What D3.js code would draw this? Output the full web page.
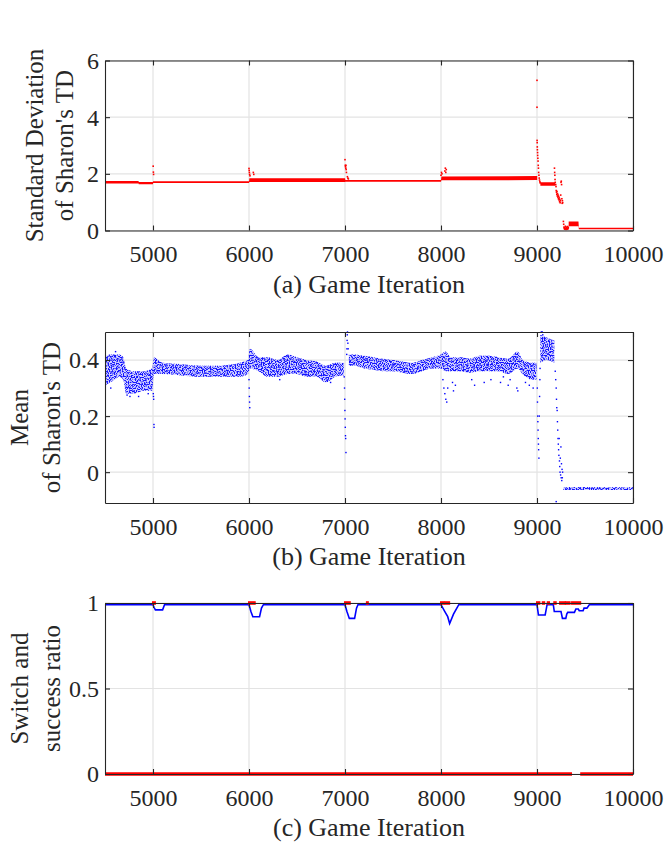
<!DOCTYPE html>
<html lang="en">
<head>
    <meta charset="utf-8">
    <title>Sharon's TD statistics</title>
    <script type="text/javascript" src="https://d3js.org/d3.v7.min.js"></script>
    <style type="text/css">
        body { margin: 0; background: #fff; }
        svg { font-family: "Liberation Serif", "Times New Roman", serif; }
    </style>
</head>
<body>
<script type="text/javascript">

    // ---- data ----
    var iterTicks = [5000, 6000, 7000, 8000, 9000, 10000];
    var stdTicks = [0, 2, 4, 6];
    var meanTicks = [0, 0.2, 0.4];
    var ratioTicks = [0, 0.5, 1];

    // (a) std dev: dense band (lo/hi) + scattered spikes
    var stdIter = [4500, 4850, 4851, 4998, 5002, 6000, 6004, 7000, 7004, 7040, 8000, 8004, 9002, 9003, 9035, 9190, 9191, 9330, 9432, 9436, 10000];
    var stdLo   = [1.66, 1.66, 1.63, 1.63, 1.68, 1.68, 1.71, 1.71, 1.72, 1.72, 1.72, 1.77, 1.78, null, 1.58, 1.58, null, 0.15, 0.15, 0.04, 0.04];
    var stdHi   = [1.75, 1.75, 1.71, 1.71, 1.74, 1.74, 1.84, 1.84, 1.78, 1.78, 1.78, 1.91, 1.92, null, 1.70, 1.70, null, 0.32, 0.32, 0.10, 0.10];
    var stdSpikeIter = [5002, 5004, 5006,
        6000, 6002, 6004, 6006, 6010, 6045, 6050,
        7000, 7003, 7005, 7008, 7010, 7012, 7015, 7025, 7030, 7035,
        8000, 8005, 8010, 8040, 8045, 8050, 8055,
        9000, 9000, 9001, 9002, 9003, 9004, 9006, 9007, 9009, 9011, 9013, 9015, 9017, 9020, 9023, 9026, 9030, 9033,
        9182, 9184, 9186, 9188, 9190,
        9195, 9198, 9200, 9203, 9206, 9208, 9211, 9214, 9217, 9220, 9223, 9226, 9229, 9232, 9235, 9238, 9241, 9244, 9247, 9250, 9253, 9256, 9259, 9262, 9265, 9268,
        9275, 9278, 9281, 9284, 9287, 9290, 9293, 9296, 9299, 9302, 9305, 9308, 9311, 9314, 9317, 9320, 9323, 9326];
    var stdSpikeVal = [2.27, 2.06, 1.98,
        2.19, 2.12, 2.05, 1.98, 1.93, 2.05, 1.98,
        2.5, 2.3, 2.25, 2.2, 2.3, 2.15, 2.05, 1.9, 1.85, 1.82,
        1.95, 2.05, 2.0, 2.1, 2.2, 2.05, 2.15,
        5.3, 4.35, 3.18, 3.1, 2.95, 2.85, 2.75, 2.65, 2.55, 2.45, 2.3, 2.2, 2.05, 1.95, 1.85, 1.78, 1.72, 1.68,
        2.2, 2.05, 1.95, 1.8, 1.7,
        1.62, 1.55, 1.41, 1.35, 1.28, 1.38, 1.22, 1.3, 1.18, 1.25, 1.12, 1.2, 1.08, 1.15, 1.02, 1.1, 0.98, 1.05, 1.25, 1.7, 1.74, 1.62, 1.12, 0.96, 1.05, 0.98,
        0.32, 0.22, 0.12, 0.08, 0.05, 0.1, 0.06, 0.15, 0.07, 0.04, 0.1, 0.06, 0.12, 0.05, 0.08, 0.14, 0.06, 0.1];

    // (b) mean: cloud envelope (lo/hi) + stray points
    var meanIter = [4500, 4550, 4600, 4650, 4690, 4720, 4800, 4900, 4990, 5010, 5100, 5300, 5500, 5700, 5900, 5990, 6010, 6100, 6200, 6300, 6400, 6500, 6600, 6700, 6800, 6900, 6990, 7010, 7040, 7100, 7200, 7300, 7400, 7500, 7600, 7700, 7800, 7900, 8000, 8050, 8100, 8200, 8300, 8400, 8500, 8600, 8700, 8800, 8850, 8950, 8995, 9010, 9035, 9100, 9180, 9200, 9275, 10000];
    var meanLo = [0.31, 0.32, 0.33, 0.34, 0.33, 0.28, 0.28, 0.29, 0.29, 0.35, 0.35, 0.345, 0.34, 0.34, 0.34, 0.35, 0.37, 0.36, 0.34, 0.34, 0.35, 0.35, 0.34, 0.34, 0.32, 0.34, 0.345, null, 0.38, 0.38, 0.37, 0.365, 0.36, 0.36, 0.355, 0.35, 0.36, 0.37, 0.37, 0.36, 0.36, 0.36, 0.355, 0.36, 0.36, 0.36, 0.35, 0.37, 0.35, 0.33, 0.33, null, 0.39, 0.40, 0.39, null, -0.064, -0.064];
    var meanHi = [0.41, 0.42, 0.42, 0.42, 0.41, 0.37, 0.36, 0.36, 0.37, 0.41, 0.39, 0.385, 0.38, 0.38, 0.39, 0.40, 0.44, 0.41, 0.41, 0.40, 0.42, 0.41, 0.40, 0.395, 0.38, 0.39, 0.39, null, 0.42, 0.42, 0.415, 0.41, 0.405, 0.40, 0.395, 0.39, 0.40, 0.41, 0.42, 0.43, 0.41, 0.41, 0.405, 0.415, 0.415, 0.41, 0.405, 0.43, 0.40, 0.39, 0.39, null, 0.49, 0.48, 0.47, null, -0.053, -0.054];
    var meanOutIter = [4560, 4610, 4730, 4760, 4850, 4950,
        5003, 5005, 5007, 5010, 5011,
        6000, 6002, 6004, 6006, 6008, 6320, 6850,
        6992, 6995, 6997, 6999, 7001, 7003, 7005, 7007, 7010, 7018, 7020, 7022, 7024, 7026, 7030, 7033,
        8020, 8030, 8040, 8050, 8060, 8070, 8120, 8130, 8150, 8320, 8350, 8450, 8520, 8620, 8650, 8700, 8720, 8790, 8800, 8880, 8920, 8960,
        9003, 9005, 9007, 9009, 9011, 9013, 9015, 9017, 9020, 9024, 9027, 9030, 9032, 9045, 9055, 9060,
        9190, 9195, 9200, 9203, 9206, 9210, 9213, 9216, 9219, 9222, 9225, 9228, 9231, 9234, 9237, 9240, 9243, 9246, 9249, 9252, 9255, 9258, 9261, 9264, 9267, 9200];
    var meanOutVal = [0.30, 0.43, 0.275, 0.27, 0.27, 0.28,
        0.28, 0.27, 0.26, 0.17, 0.16,
        0.33, 0.30, 0.27, 0.25, 0.23, 0.33, 0.32,
        0.34, 0.30, 0.26, 0.22, 0.19, 0.16, 0.13, 0.12, 0.07, 0.42, 0.44, 0.47, 0.49, 0.50, 0.46, 0.44,
        0.33, 0.30, 0.28, 0.26, 0.25, 0.30, 0.32, 0.29, 0.31, 0.33, 0.31, 0.32, 0.33, 0.32, 0.34, 0.31, 0.33, 0.30, 0.29, 0.32, 0.31, 0.30,
        0.30, 0.25, 0.20, 0.18, 0.15, 0.12, 0.10, 0.08, 0.05, 0.20, 0.27, 0.33, 0.37, 0.50, 0.50, 0.49,
        0.36, 0.33, 0.30, 0.26, 0.23, 0.22, 0.18, 0.15, 0.12, 0.10, 0.08, 0.06, 0.12, 0.04, 0.02, 0.00, 0.05, -0.01, 0.09, -0.02, 0.03, -0.03, 0.01, -0.02, 0.00, -0.105];

    // (c) success ratio (blue line) and switch flag (red)
    var ratioIter = [4500, 5000, 5010, 5025, 5100, 5120, 6000, 6020, 6040, 6110, 6130, 6150, 7000, 7020, 7045, 7100, 7120, 7135, 8000, 8040, 8070, 8090, 8130, 8165, 8185, 9000, 9015, 9085, 9105, 9170, 9180, 9250, 9265, 9300, 9310, 9320, 9390, 9405, 9430, 9440, 9480, 9490, 9520, 9545, 10000];
    var ratioVal = [0.99, 0.99, 0.975, 0.96, 0.96, 0.99, 0.99, 0.95, 0.92, 0.92, 0.97, 0.99, 0.99, 0.95, 0.91, 0.91, 0.97, 0.99, 0.99, 0.95, 0.92, 0.88, 0.935, 0.97, 0.99, 0.99, 0.93, 0.93, 0.99, 0.99, 0.95, 0.95, 0.91, 0.91, 0.935, 0.945, 0.945, 0.965, 0.965, 0.955, 0.955, 0.97, 0.97, 0.99, 0.99];
    var switchOnStart = [5000, 6000, 7000, 7228, 8000, 8045, 9000, 9060, 9112, 9180, 9240, 9300, 9365];
    var switchOnEnd   = [5020, 6060, 7050, 7238, 8030, 8085, 9025, 9075, 9125, 9195, 9290, 9340, 9450];
    var switchOffStart = [4500, 9450];
    var switchOffEnd   = [9365, 10000];

    // ---- layout ----
    var W = 665, H = 844;
    var left = 105, right = 633;
    var axisColor = "#262626", gridColor = "#e3e3e3";
    var serif = "Liberation Serif";

    var svg = d3.select("body").append("svg")
        .attr("width", W).attr("height", H);

    // speckle texture so the dense point cloud looks dotted rather than solid
    var defs = svg.append("defs");
    var speckle = defs.append("filter").attr("id", "speckle")
        .attr("x", 0).attr("y", 0).attr("width", 1).attr("height", 1);
    speckle.append("feTurbulence").attr("type", "fractalNoise")
        .attr("baseFrequency", 0.85).attr("numOctaves", 1).attr("seed", 3).attr("result", "noise");
    speckle.append("feColorMatrix").attr("in", "noise").attr("type", "matrix")
        .attr("values", "0 0 0 0 0  0 0 0 0 0  0 0 0 0 0  0 0 0 7 -3.1").attr("result", "mask");
    speckle.append("feComposite").attr("in", "SourceGraphic").attr("in2", "mask").attr("operator", "in");

    var x = d3.scaleLinear().domain([4500, 10000]).range([left, right]);

    function styleAxis(a) {
        a.attr("font-family", serif).attr("font-size", 24);
        a.select(".domain").attr("stroke", axisColor).attr("stroke-width", 1.1);
        a.selectAll(".tick line").attr("stroke", axisColor).attr("stroke-width", 1.1);
        a.selectAll(".tick text").attr("fill", axisColor);
    }

    function panel(top, bottom, yDomain, yTicks, yFmt, title, yLines, yLabelX) {
        var y = d3.scaleLinear().domain(yDomain).range([bottom, top]);
        var g = svg.append("g");
        // grid
        g.selectAll(".gx").data(iterTicks).enter().append("line")
            .attr("x1", function(d) { return x(d); }).attr("x2", function(d) { return x(d); })
            .attr("y1", top).attr("y2", bottom)
            .attr("stroke", gridColor).attr("stroke-width", 1.2);
        g.selectAll(".gy").data(yTicks).enter().append("line")
            .attr("y1", function(d) { return y(d); }).attr("y2", function(d) { return y(d); })
            .attr("x1", left).attr("x2", right)
            .attr("stroke", gridColor).attr("stroke-width", 1.2);
        var data = g.append("g");
        var frame = svg.append("g");

        // axes on all four sides, ticks pointing inward
        var xb = frame.append("g").attr("transform", "translate(0," + bottom + ")")
            .call(d3.axisBottom(x).tickValues(iterTicks).tickSizeInner(-5).tickSizeOuter(0).tickFormat(d3.format("d")));
        var xt = frame.append("g").attr("transform", "translate(0," + top + ")")
            .call(d3.axisTop(x).tickValues(iterTicks).tickSizeInner(-5).tickSizeOuter(0).tickFormat(""));
        var yl = frame.append("g").attr("transform", "translate(" + left + ",0)")
            .call(d3.axisLeft(y).tickValues(yTicks).tickSizeInner(-5).tickSizeOuter(0).tickFormat(yFmt));
        var yr = frame.append("g").attr("transform", "translate(" + right + ",0)")
            .call(d3.axisRight(y).tickValues(yTicks).tickSizeInner(-5).tickSizeOuter(0).tickFormat(""));
        [xb, xt, yl, yr].forEach(styleAxis);
        xb.selectAll(".tick text").attr("y", 31.5).attr("dy", null);
        yl.selectAll(".tick text").attr("x", -6).attr("dy", "0.33em");

        frame.append("text")
            .attr("x", (left + right) / 2).attr("y", bottom + 62)
            .attr("text-anchor", "middle").attr("fill", axisColor)
            .attr("font-family", serif).attr("font-size", 26).text(title);
        var cy = (top + bottom) / 2;
        yLines.forEach(function(t, i) {
            frame.append("text")
                .attr("transform", "translate(" + yLabelX[i] + "," + cy + ") rotate(-90)")
                .attr("text-anchor", "middle").attr("fill", axisColor)
                .attr("font-family", serif).attr("font-size", 25).text(t);
        });
        return { y: y, g: data };
    }

    // ---- (a) ----
    var pa = panel(60.5, 230.5, [0, 6], stdTicks, d3.format("d"), "(a) Game Iteration",
        ["Standard Deviation", "of Sharon's TD"], [43, 73]);
    var stdRows = stdIter.map(function(d, i) { return { it: d, lo: stdLo[i], hi: stdHi[i] }; });
    pa.g.append("path").datum(stdRows)
        .attr("fill", "#ff0000")
        .attr("d", d3.area().defined(function(d) { return d.lo !== null; })
            .x(function(d) { return x(d.it); })
            .y0(function(d) { return pa.y(d.lo); })
            .y1(function(d) { return pa.y(d.hi); }));
    pa.g.selectAll(".sp").data(stdSpikeIter).enter().append("rect")
        .attr("x", function(d) { return x(d) - 0.8; })
        .attr("y", function(d, i) { return pa.y(stdSpikeVal[i]) - 0.8; })
        .attr("width", 1.6).attr("height", 1.6)
        .attr("fill", "#ff0000");

    // ---- (b) ----
    var pb = panel(332, 503, [-0.11, 0.5], meanTicks, function(d) { return d === 0 ? "0" : d3.format(".1f")(d); },
        "(b) Game Iteration", ["Mean", "of Sharon's TD"], [27.5, 59.5]);
    var meanRows = meanIter.map(function(d, i) { return { it: d, lo: meanLo[i], hi: meanHi[i] }; });
    var cloud = d3.area().defined(function(d) { return d.lo !== null; })
        .curve(d3.curveMonotoneX)
        .x(function(d) { return x(d.it); })
        .y0(function(d) { return pb.y(d.lo); })
        .y1(function(d) { return pb.y(d.hi); });
    pb.g.append("path").datum(meanRows)
        .attr("fill", "#0000ff").attr("fill-opacity", 0.9)
        .attr("filter", "url(#speckle)")
        .attr("d", cloud);
    pb.g.append("path").datum(meanRows)
        .attr("fill", "#0000ff").attr("fill-opacity", 0.18)
        .attr("d", cloud);
    pb.g.selectAll(".mo").data(meanOutIter).enter().append("rect")
        .attr("x", function(d) { return x(d) - 0.7; })
        .attr("y", function(d, i) { return pb.y(meanOutVal[i]) - 0.7; })
        .attr("width", 1.4).attr("height", 1.4)
        .attr("fill", "#0000ff");

    // ---- (c) ----
    var pc = panel(603, 774, [0, 1], ratioTicks, function(d) { return d === 0.5 ? "0.5" : d3.format("d")(d); },
        "(c) Game Iteration", ["Switch and", "success ratio"], [28, 60]);
    pc.g.append("path").datum(ratioIter)
        .attr("fill", "none").attr("stroke", "#0000ff").attr("stroke-width", 1.6)
        .attr("d", d3.line()
            .x(function(d) { return x(d); })
            .y(function(d, i) { return pc.y(ratioVal[i]); }));
    pc.g.selectAll(".off").data(switchOffStart).enter().append("line")
        .attr("x1", function(d) { return x(d); })
        .attr("x2", function(d, i) { return x(switchOffEnd[i]); })
        .attr("y1", pc.y(0)).attr("y2", pc.y(0))
        .attr("stroke", "#ff0000").attr("stroke-width", 3.6);
    pc.g.selectAll(".on").data(switchOnStart).enter().append("line")
        .attr("x1", function(d) { return x(d) - 1; })
        .attr("x2", function(d, i) { return x(switchOnEnd[i]) + 1; })
        .attr("y1", pc.y(1)).attr("y2", pc.y(1))
        .attr("stroke", "#ff0000").attr("stroke-width", 3.6);

</script>
</body>
</html>
